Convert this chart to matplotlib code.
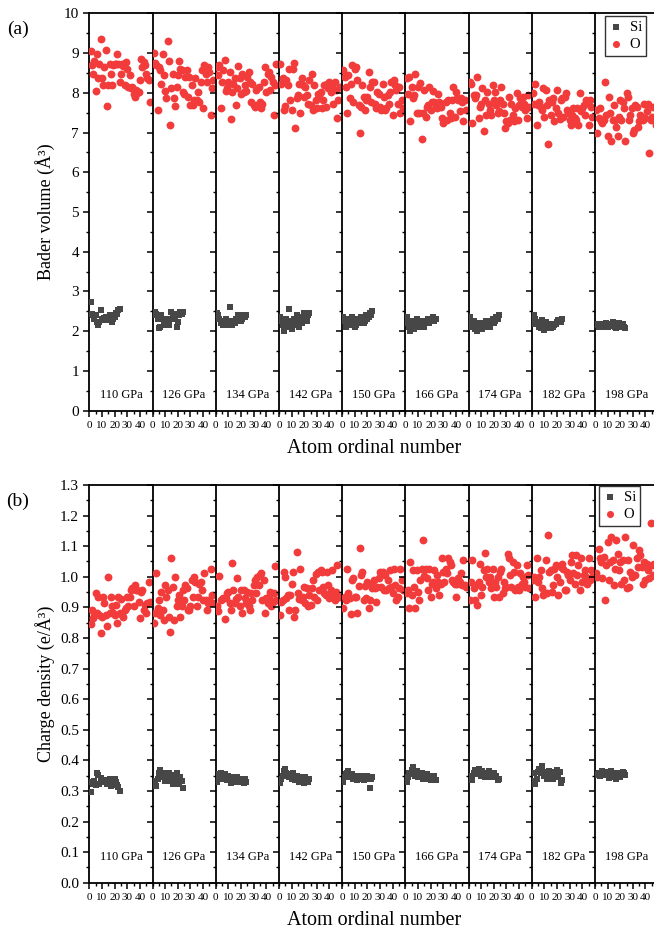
import matplotlib
matplotlib.use("Agg")
import matplotlib.pyplot as plt
from matplotlib.ticker import MultipleLocator, FormatStrFormatter

plt.rcParams["font.family"] = ["Liberation Serif", "DejaVu Serif"]

pressures = ["110 GPa", "126 GPa", "134 GPa", "142 GPa", "150 GPa",
             "166 GPa", "174 GPa", "182 GPa", "198 GPa"]

# ---- Bader volume (A^3), Si atoms 1..24 ----
si_vol_110 = [2.73, 2.44, 2.40, 2.32, 2.40, 2.23, 2.15, 2.23, 2.53, 2.32, 2.28, 2.34,
              2.36, 2.32, 2.28, 2.40, 2.40, 2.23, 2.32, 2.36, 2.46, 2.44, 2.53, 2.57]
si_vol_126 = [2.40, 2.48, 2.44, 2.32, 2.07, 2.11, 2.40, 2.32, 2.15, 2.23, 2.29, 2.32,
              2.15, 2.32, 2.48, 2.40, 2.44, 2.32, 2.11, 2.23, 2.40, 2.48, 2.44, 2.48]
si_vol_134 = [2.45, 2.40, 2.30, 2.20, 2.25, 2.15, 2.20, 2.30, 2.25, 2.15, 2.60, 2.20,
              2.15, 2.25, 2.20, 2.30, 2.25, 2.40, 2.35, 2.25, 2.30, 2.40, 2.35, 2.40]
si_vol_142 = [2.35, 2.25, 2.15, 2.00, 2.20, 2.30, 2.10, 2.55, 2.25, 2.05, 2.20, 2.30,
              2.15, 2.40, 2.25, 2.10, 2.35, 2.20, 2.30, 2.45, 2.35, 2.25, 2.40, 2.45]
si_vol_150 = [2.35, 2.25, 2.10, 2.20, 2.30, 2.15, 2.25, 2.35, 2.20, 2.10, 2.15, 2.30,
              2.25, 2.20, 2.35, 2.30, 2.20, 2.25, 2.40, 2.30, 2.35, 2.45, 2.40, 2.50]
si_vol_166 = [2.35, 2.20, 2.10, 2.00, 2.25, 2.15, 2.05, 2.20, 2.30, 2.15, 2.10, 2.20,
              2.25, 2.15, 2.10, 2.20, 2.25, 2.30, 2.20, 2.25, 2.30, 2.35, 2.25, 2.30]
si_vol_174 = [2.35, 2.20, 2.10, 2.25, 2.05, 2.15, 2.00, 2.10, 2.20, 2.15, 2.05, 2.10,
              2.20, 2.25, 2.15, 2.20, 2.10, 2.25, 2.30, 2.20, 2.25, 2.35, 2.30, 2.40]
si_vol_182 = [2.19, 2.40, 2.32, 2.23, 2.21, 2.11, 2.07, 2.29, 2.15, 2.02, 2.23, 2.07,
              2.11, 2.17, 2.07, 2.19, 2.11, 2.15, 2.19, 2.23, 2.27, 2.29, 2.23, 2.32]
si_vol_198 = [2.19, 2.15, 2.11, 2.19, 2.15, 2.11, 2.19, 2.15, 2.21, 2.11, 2.15, 2.19,
              2.12, 2.23, 2.19, 2.11, 2.07, 2.19, 2.21, 2.11, 2.15, 2.19, 2.11, 2.07]

# ---- Bader volume (A^3), O atoms 1..48 ----
o_vol_110 = [9.05, 8.69, 8.48, 8.80, 8.05, 8.98, 8.36, 8.72, 9.36, 8.36, 8.19, 8.65,
             9.08, 7.67, 8.19, 8.73, 8.47, 8.19, 8.69, 8.73, 8.73, 8.98, 8.73, 8.28,
             8.48, 8.73, 8.67, 8.19, 8.77, 8.61, 8.15, 8.44, 8.11, 8.15, 7.98, 7.90,
             8.07, 8.00, 8.02, 8.33, 8.84, 8.65, 8.77, 8.69, 8.48, 8.36, 8.32, 7.78]
o_vol_126 = [9.01, 8.75, 8.69, 7.57, 8.65, 8.57, 8.23, 8.98, 8.44, 8.05, 7.86, 9.30,
             8.80, 7.19, 8.11, 8.48, 7.86, 7.67, 8.15, 8.44, 8.80, 8.61, 8.58, 8.02,
             7.97, 8.40, 8.57, 7.90, 8.40, 7.69, 8.19, 7.69, 7.82, 8.36, 7.82, 8.02,
             7.78, 8.28, 8.57, 7.61, 8.69, 8.48, 8.28, 8.65, 8.53, 7.44, 8.11, 8.32]
o_vol_134 = [8.65, 8.44, 8.69, 7.61, 8.28, 8.57, 8.83, 8.05, 8.11, 8.28, 8.53, 7.33,
             8.02, 8.23, 8.36, 7.69, 8.11, 8.67, 8.36, 7.97, 8.48, 8.02, 8.19, 8.05,
             8.40, 8.53, 8.28, 7.78, 8.23, 7.69, 7.65, 8.07, 7.69, 8.15, 7.78, 7.61,
             7.73, 8.28, 8.65, 8.02, 8.48, 8.53, 8.07, 8.40, 8.28, 7.44, 8.19, 8.73]
o_vol_142 = [8.72, 8.23, 8.36, 7.57, 7.67, 8.32, 8.19, 8.61, 7.82, 7.57, 8.59, 8.75,
             7.11, 7.88, 7.94, 8.23, 7.48, 8.36, 8.19, 7.90, 8.15, 7.94, 7.73, 8.32,
             7.69, 8.47, 7.57, 8.19, 7.82, 7.61, 7.98, 7.94, 8.02, 7.61, 7.82, 8.19,
             7.65, 8.23, 8.11, 8.28, 8.02, 8.15, 7.73, 8.28, 8.07, 7.36, 7.82, 8.15]
o_vol_150 = [8.57, 8.40, 8.15, 7.48, 8.44, 7.86, 8.23, 8.69, 7.78, 8.61, 8.65, 8.32,
             7.69, 6.98, 7.65, 8.19, 7.90, 7.57, 7.82, 7.90, 8.53, 8.15, 7.78, 8.28,
             8.28, 7.73, 7.61, 8.02, 7.98, 7.65, 7.57, 8.23, 7.90, 7.57, 7.61, 7.94,
             7.73, 8.02, 8.28, 7.44, 8.32, 8.19, 8.07, 7.73, 8.15, 7.48, 7.82, 7.61]
o_vol_166 = [8.38, 7.98, 8.40, 7.28, 8.15, 7.86, 7.94, 8.48, 7.48, 8.15, 7.48, 8.25,
             6.83, 7.48, 8.07, 7.40, 7.65, 7.69, 8.15, 7.57, 7.78, 8.05, 7.78, 7.69,
             7.61, 7.98, 7.78, 7.65, 7.36, 7.23, 7.28, 7.78, 7.32, 7.82, 7.48, 7.36,
             7.82, 8.15, 7.40, 8.02, 7.86, 7.82, 7.53, 7.86, 7.78, 7.28, 7.82, 7.57]
o_vol_174 = [8.28, 8.23, 7.23, 7.94, 7.86, 7.94, 8.40, 7.36, 7.65, 7.73, 8.11, 7.05,
             7.82, 7.44, 8.02, 7.73, 7.57, 7.44, 8.19, 7.82, 8.02, 7.69, 7.48, 7.53,
             7.82, 8.15, 7.73, 7.48, 7.11, 7.28, 7.23, 7.90, 7.32, 7.73, 7.44, 7.28,
             7.61, 8.00, 7.32, 7.69, 7.86, 7.65, 7.90, 7.73, 7.57, 7.36, 7.94, 7.65]
o_vol_182 = [8.00, 7.73, 8.22, 7.19, 7.69, 7.78, 7.65, 7.57, 8.11, 7.40, 8.07, 7.69,
             6.72, 7.82, 7.44, 7.78, 7.86, 7.28, 7.61, 8.08, 7.48, 7.33, 7.82, 7.86,
             7.40, 7.90, 8.00, 7.57, 7.48, 7.32, 7.19, 7.44, 7.61, 7.36, 7.32, 7.61,
             7.19, 8.00, 7.53, 7.61, 7.69, 7.44, 7.82, 7.78, 7.19, 7.82, 7.65, 7.40]
o_vol_198 = [7.57, 6.98, 7.36, 7.61, 7.28, 7.23, 7.32, 8.28, 7.44, 6.90, 7.90, 7.48,
             6.78, 7.32, 7.69, 7.32, 7.15, 6.90, 7.40, 7.82, 7.32, 7.78, 7.61, 6.78,
             8.00, 7.90, 7.32, 7.44, 7.61, 6.98, 7.07, 7.69, 7.65, 7.15, 7.28, 7.44,
             7.40, 7.32, 7.73, 7.36, 7.53, 7.73, 6.48, 7.32, 7.40, 7.65, 7.32, 7.19]

# ---- Charge density (e/A^3), Si atoms 1..24 ----
si_rho_110 = [0.297, 0.329, 0.324, 0.333, 0.318, 0.359, 0.351, 0.321, 0.343, 0.337, 0.335, 0.329,
              0.337, 0.324, 0.333, 0.340, 0.315, 0.324, 0.335, 0.340, 0.329, 0.318, 0.313, 0.300]
si_rho_126 = [0.318, 0.333, 0.315, 0.340, 0.357, 0.367, 0.351, 0.359, 0.346, 0.333, 0.351, 0.340,
              0.357, 0.333, 0.346, 0.324, 0.340, 0.351, 0.359, 0.337, 0.321, 0.346, 0.333, 0.311]
si_rho_134 = [0.330, 0.345, 0.355, 0.360, 0.350, 0.340, 0.355, 0.345, 0.335, 0.350, 0.340, 0.325,
              0.345, 0.335, 0.340, 0.330, 0.345, 0.335, 0.340, 0.330, 0.335, 0.325, 0.340, 0.330]
si_rho_142 = [0.325, 0.340, 0.350, 0.365, 0.372, 0.360, 0.355, 0.345, 0.350, 0.340, 0.360, 0.345,
              0.335, 0.350, 0.340, 0.330, 0.345, 0.335, 0.340, 0.325, 0.345, 0.335, 0.330, 0.340]
si_rho_150 = [0.330, 0.345, 0.355, 0.360, 0.365, 0.350, 0.345, 0.355, 0.340, 0.350, 0.345, 0.335,
              0.350, 0.340, 0.345, 0.350, 0.335, 0.345, 0.340, 0.350, 0.345, 0.310, 0.340, 0.345]
si_rho_166 = [0.330, 0.345, 0.360, 0.355, 0.370, 0.378, 0.360, 0.350, 0.365, 0.345, 0.355, 0.350,
              0.360, 0.340, 0.350, 0.345, 0.355, 0.340, 0.350, 0.335, 0.345, 0.340, 0.350, 0.335]
si_rho_174 = [0.340, 0.350, 0.335, 0.360, 0.370, 0.365, 0.355, 0.372, 0.360, 0.350, 0.365, 0.355,
              0.345, 0.360, 0.350, 0.365, 0.355, 0.345, 0.355, 0.360, 0.345, 0.350, 0.335, 0.340]
si_rho_182 = [0.333, 0.357, 0.324, 0.340, 0.362, 0.373, 0.357, 0.380, 0.362, 0.348, 0.357, 0.340,
              0.359, 0.365, 0.351, 0.362, 0.340, 0.357, 0.346, 0.370, 0.354, 0.362, 0.326, 0.337]
si_rho_198 = [0.354, 0.351, 0.359, 0.348, 0.357, 0.365, 0.359, 0.351, 0.362, 0.357, 0.343, 0.348,
              0.365, 0.359, 0.354, 0.346, 0.340, 0.351, 0.359, 0.346, 0.354, 0.362, 0.357, 0.351]

# ---- Charge density (e/A^3), O atoms 1..48 ----
o_rho_110 = [0.847, 0.892, 0.865, 0.876, 0.948, 0.881, 0.935, 0.876, 0.816, 0.870, 0.935, 0.914,
             0.876, 0.838, 0.998, 0.881, 0.935, 0.903, 0.881, 0.876, 0.908, 0.849, 0.933, 0.881,
             0.927, 0.876, 0.870, 0.892, 0.897, 0.935, 0.903, 0.935, 0.957, 0.962, 0.903, 0.973,
             0.957, 0.957, 0.919, 0.865, 0.951, 0.957, 0.892, 0.908, 0.881, 0.914, 0.984, 0.919]
o_rho_126 = [0.849, 0.881, 1.013, 0.897, 0.924, 0.876, 0.951, 0.892, 0.860, 0.973, 0.935, 0.957,
             0.870, 0.818, 1.063, 0.965, 0.860, 0.998, 0.903, 0.924, 0.941, 0.870, 0.903, 0.957,
             0.924, 0.973, 0.962, 0.892, 0.892, 0.903, 0.989, 0.935, 1.000, 0.984, 0.903, 0.935,
             0.978, 0.984, 0.957, 0.924, 1.011, 0.924, 0.892, 0.914, 0.924, 1.027, 0.941, 0.914]
o_rho_134 = [0.903, 0.887, 1.004, 0.924, 0.927, 0.930, 0.862, 0.930, 0.946, 0.951, 0.914, 0.892,
             1.045, 0.957, 0.914, 0.927, 0.995, 0.935, 0.905, 0.957, 0.881, 0.957, 0.930, 0.914,
             0.951, 0.903, 0.892, 0.946, 0.924, 0.973, 0.989, 0.946, 1.000, 0.973, 1.005, 1.011,
             0.924, 0.989, 0.881, 0.930, 0.914, 0.935, 0.951, 0.903, 0.919, 0.946, 1.035, 0.924]
o_rho_142 = [0.876, 0.919, 0.924, 1.016, 1.000, 0.930, 0.941, 0.892, 0.941, 0.978, 1.016, 0.870,
             0.892, 1.081, 0.946, 0.927, 1.024, 0.924, 0.935, 0.968, 0.914, 0.962, 0.903, 0.941,
             0.908, 0.962, 0.989, 0.935, 1.009, 0.924, 1.016, 0.957, 1.022, 1.016, 0.968, 0.946,
             0.941, 1.016, 0.973, 0.930, 0.957, 1.022, 0.941, 0.924, 0.951, 1.038, 0.935, 0.935]
o_rho_150 = [0.897, 0.935, 0.924, 1.024, 0.946, 0.930, 0.878, 0.989, 0.995, 0.935, 0.935, 0.881,
             0.970, 1.095, 1.005, 1.016, 0.924, 0.970, 0.930, 0.984, 0.897, 0.924, 0.973, 0.962,
             0.989, 0.962, 0.919, 0.968, 0.995, 1.016, 0.968, 1.016, 0.957, 1.005, 0.957, 0.989,
             0.962, 1.022, 0.968, 0.946, 1.027, 0.973, 0.924, 0.935, 0.962, 1.027, 0.989, 0.957]
o_rho_166 = [0.946, 0.957, 0.897, 1.049, 0.941, 1.022, 0.968, 0.897, 1.022, 0.951, 0.924, 0.989,
             1.027, 1.121, 1.002, 1.027, 0.995, 0.957, 1.027, 0.935, 0.978, 0.984, 1.022, 0.962,
             1.005, 0.984, 0.941, 0.978, 1.060, 1.016, 0.984, 1.027, 1.011, 1.060, 1.049, 1.038,
             0.989, 0.984, 0.978, 0.935, 0.978, 0.995, 0.984, 1.011, 0.973, 1.054, 0.973, 0.968]
o_rho_174 = [0.924, 0.984, 1.054, 0.962, 0.924, 0.973, 0.908, 0.984, 1.043, 0.941, 0.968, 1.022,
             1.078, 1.000, 1.027, 0.984, 1.000, 0.962, 1.027, 0.935, 0.984, 0.968, 1.000, 0.935,
             1.016, 1.027, 0.946, 0.984, 0.962, 0.968, 1.076, 1.060, 1.005, 0.968, 1.049, 1.016,
             0.957, 1.038, 0.968, 0.957, 1.011, 0.978, 1.000, 0.984, 0.968, 1.038, 1.005, 0.962]
o_rho_182 = [0.989, 1.000, 0.933, 1.063, 0.984, 1.000, 1.022, 0.962, 0.941, 0.946, 1.054, 0.946,
             1.138, 1.016, 1.022, 0.951, 0.973, 1.027, 1.038, 1.000, 0.941, 0.984, 1.032, 1.043,
             1.027, 0.957, 0.957, 1.016, 1.005, 0.989, 1.049, 1.070, 1.011, 0.978, 1.070, 1.005,
             1.038, 0.957, 1.060, 0.984, 1.005, 1.022, 1.000, 0.978, 1.060, 0.989, 1.022, 1.000]
o_rho_198 = [1.011, 1.000, 1.092, 1.060, 1.049, 0.995, 1.065, 0.924, 1.038, 1.113, 0.989, 1.049,
             1.130, 1.054, 0.973, 1.027, 1.119, 1.076, 1.022, 1.049, 0.978, 1.054, 0.989, 1.130,
             0.962, 1.054, 0.968, 1.016, 1.000, 1.103, 1.005, 1.005, 1.060, 1.032, 1.087, 1.070,
             1.032, 0.978, 1.049, 0.989, 1.043, 1.022, 0.995, 1.175, 1.038, 1.005, 1.043, 1.000]

si_volume = [si_vol_110, si_vol_126, si_vol_134, si_vol_142, si_vol_150,
             si_vol_166, si_vol_174, si_vol_182, si_vol_198]
o_volume = [o_vol_110, o_vol_126, o_vol_134, o_vol_142, o_vol_150,
            o_vol_166, o_vol_174, o_vol_182, o_vol_198]
si_density = [si_rho_110, si_rho_126, si_rho_134, si_rho_142, si_rho_150,
              si_rho_166, si_rho_174, si_rho_182, si_rho_198]
o_density = [o_rho_110, o_rho_126, o_rho_134, o_rho_142, o_rho_150,
             o_rho_166, o_rho_174, o_rho_182, o_rho_198]

SI_COLOR = "#474747"
O_COLOR = "#f23c3c"

W, H = 654, 933
fig = plt.figure(figsize=(W / 100, H / 100), dpi=100)

left_px = 89.3
panel_px = 63.2


def draw_row(top_px, bottom_px, si_sets, o_sets, ylim, ymajor, yminor, yfmt,
             ylabel, tag, label_y_frac, legend_anchor):
    axes = []
    for i in range(len(pressures)):
        x0 = (left_px + i * panel_px) / W
        y0 = 1 - bottom_px / H
        ax = fig.add_axes([x0, y0, panel_px / W, (bottom_px - top_px) / H])
        si = si_sets[i]
        o = o_sets[i]
        h_si = ax.scatter(range(1, len(si) + 1), si, marker="s", s=17,
                          color=SI_COLOR, linewidths=0, label="Si", zorder=3)
        h_o = ax.scatter(range(1, len(o) + 1), o, marker="o", s=32,
                         color=O_COLOR, linewidths=0, label="O", zorder=3)
        ax.set_xlim(0, 50)
        ax.set_ylim(*ylim)
        ax.set_xticks([0, 10, 20, 30, 40])
        ax.xaxis.set_minor_locator(MultipleLocator(5))
        ax.yaxis.set_major_locator(MultipleLocator(ymajor))
        ax.yaxis.set_minor_locator(MultipleLocator(yminor))
        ax.spines["right"].set_visible(False)
        for sp in ("left", "top", "bottom"):
            ax.spines[sp].set_linewidth(1.3)
        ax.tick_params(axis="x", which="major", direction="out", length=4.5,
                       width=1.1, labelsize=8, pad=3, top=False)
        ax.tick_params(axis="x", which="minor", direction="out", length=2.5,
                       width=1.0, top=False)
        ax.tick_params(axis="y", which="major", direction="out", length=4.5,
                       width=1.1, labelsize=11, pad=3, right=False)
        ax.tick_params(axis="y", which="minor", direction="out", length=2.5,
                       width=1.0, right=False)
        if i == 0:
            ax.yaxis.set_major_formatter(yfmt)
        else:
            ax.tick_params(axis="y", which="both", labelleft=False)
        ax.text(0.5, label_y_frac, pressures[i], transform=ax.transAxes,
                ha="center", va="center", fontsize=9)
        axes.append(ax)
    leg = axes[-1].legend(handles=[h_si, h_o], loc="upper left",
                          bbox_to_anchor=legend_anchor,
                          bbox_transform=fig.transFigure, frameon=True,
                          fancybox=False, edgecolor="black", fontsize=10.5,
                          handletextpad=0.5, borderpad=0.3, labelspacing=0.3,
                          handlelength=0.9, borderaxespad=0.0,
                          markerscale=0.9)
    leg.get_frame().set_linewidth(1.0)
    leg.set_zorder(10)
    centre_x = (left_px + 4.5 * panel_px) / W
    fig.text(centre_x, 1 - (bottom_px + 38) / H, "Atom ordinal number",
             ha="center", va="center", fontsize=14.5)
    fig.text(45 / W, 1 - (top_px + bottom_px) / 2 / H, ylabel, rotation=90,
             ha="center", va="center", fontsize=13)
    fig.text(18 / W, 1 - (top_px + 16) / H, tag, ha="center", va="center",
             fontsize=14)
    return axes


draw_row(13.3, 410.7, si_volume, o_volume, (0, 10), 1, 0.5,
         FormatStrFormatter("%d"),
         "Bader volume (Å³)", "(a)", 0.04, (605 / W, 1 - 16 / H))
draw_row(485, 882.7, si_density, o_density, (0, 1.3), 0.1, 0.05,
         FormatStrFormatter("%.1f"),
         "Charge density (e/Å³)", "(b)", 0.065, (599 / W, 1 - 486 / H))

fig.savefig("out.png", dpi=100)
